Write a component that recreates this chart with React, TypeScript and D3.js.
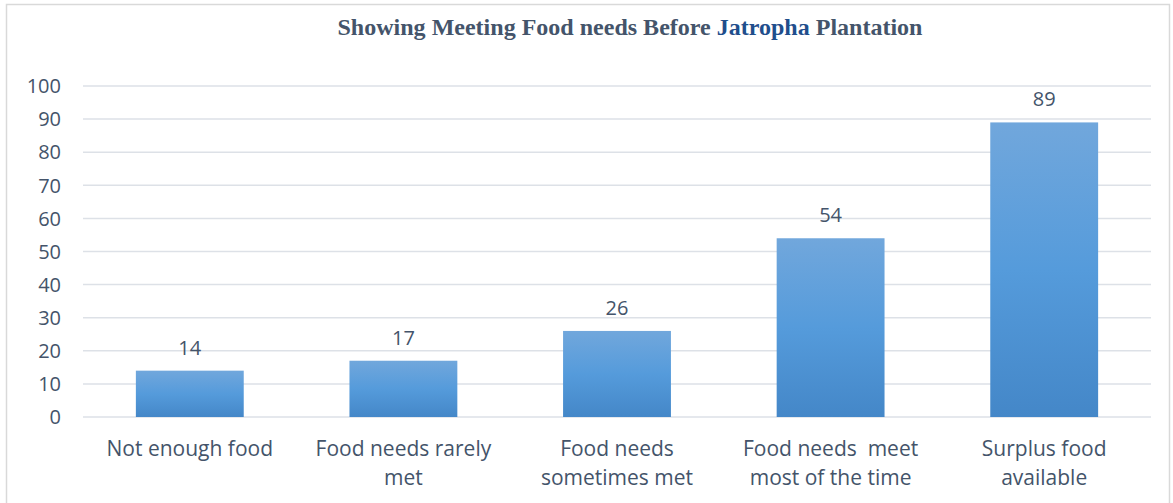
import React from "react";
import * as d3 from "d3";

const categories = [
  ["Not enough food"],
  ["Food needs rarely", "met"],
  ["Food needs", "sometimes met"],
  ["Food needs  meet", "most of the time"],
  ["Surplus food", "available"],
];
const values = [14, 17, 26, 54, 89];
const yTicks = [0, 10, 20, 30, 40, 50, 60, 70, 80, 90, 100];

const W = 1173;
const H = 503;
const left = 83;
const right = 1151;
const top = 86;
const bottom = 417;
const labelFont = "'Open Sans', sans-serif";
const textColor = "#44546A";

const App = () => {
  const x = d3
    .scaleBand<number>()
    .domain(d3.range(values.length))
    .range([left, right])
    .paddingInner(0.495)
    .paddingOuter(0.2475);
  const y = d3.scaleLinear().domain([0, 100]).range([bottom, top]);

  return (
    <div style={{ position: "absolute", left: 0, top: 0 }}>
      <svg width={W} height={H} style={{ display: "block", background: "#fff" }}>
        <defs>
          <linearGradient id="barGrad" x1="0" y1="0" x2="0" y2="1">
            <stop offset="0%" stopColor="#71A7DC" />
            <stop offset="50%" stopColor="#559BDB" />
            <stop offset="100%" stopColor="#4487C8" />
          </linearGradient>
        </defs>
        {/* chart frame */}
        <rect x={6.5} y={4.5} width={1163} height={505} fill="none" stroke="#D9D9D9" strokeWidth={1.5} />

        <text
          x={630}
          y={35}
          textAnchor="middle"
          fontFamily="'Liberation Serif', 'Times New Roman', serif"
          fontWeight="bold"
          fontSize={24}
          fill={textColor}
          textLength={585}
          lengthAdjust="spacingAndGlyphs"
        >
          Showing Meeting Food needs Before <tspan fill="#1F4E8C">Jatropha</tspan> Plantation
        </text>

        {yTicks.map(t => (
          <g key={t}>
            <line x1={left} x2={right} y1={y(t)} y2={y(t)} stroke="#DDE1E7" strokeWidth={1.5} />
            <text
              x={61}
              y={y(t)}
              dy="0.36em"
              textAnchor="end"
              fontFamily={labelFont}
              fontSize={20}
              fill={textColor}
            >
              {t}
            </text>
          </g>
        ))}

        {values.map((v, i) => (
          <g key={i}>
            <rect
              x={x(i)}
              y={y(v)}
              width={x.bandwidth()}
              height={y(0) - y(v)}
              fill="url(#barGrad)"
            />
            <text
              x={(x(i) as number) + x.bandwidth() / 2}
              y={y(v) - 16}
              textAnchor="middle"
              fontFamily={labelFont}
              fontSize={20}
              fill={textColor}
            >
              {v}
            </text>
            {categories[i].map((line, j) => (
              <text
                key={j}
                x={(x(i) as number) + x.bandwidth() / 2}
                y={456 + j * 29}
                textAnchor="middle"
                fontFamily={labelFont}
                fontSize={21}
                fill={textColor}
                style={{ whiteSpace: "pre" }}
              >
                {line}
              </text>
            ))}
          </g>
        ))}
      </svg>
    </div>
  );
};

export default App;
